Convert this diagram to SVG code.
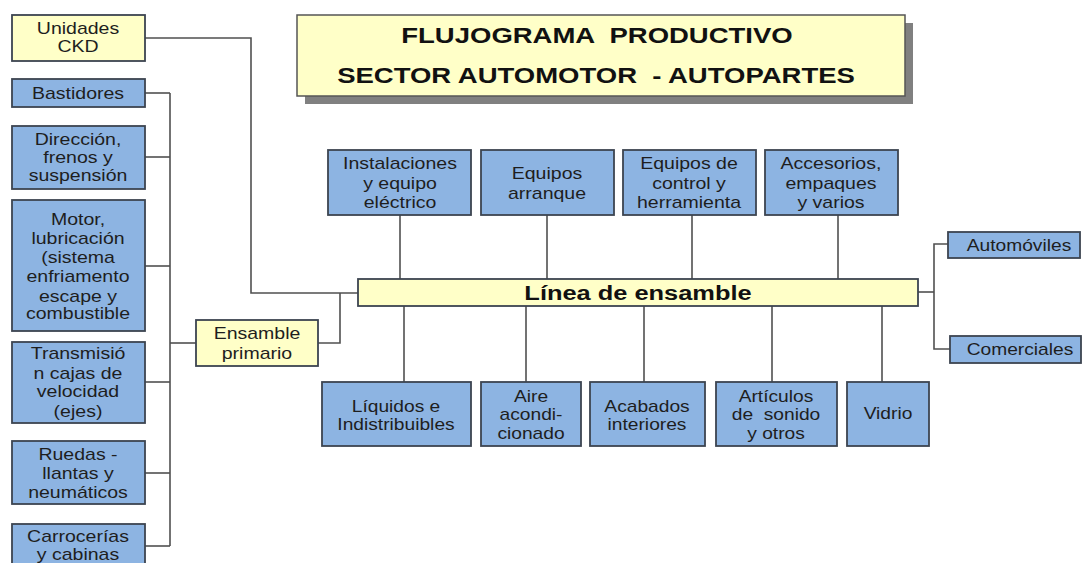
<svg xmlns="http://www.w3.org/2000/svg" width="1083" height="563" viewBox="0 0 1083 563">
<style>
.b{fill:#8DB4E2;stroke:#3c4450;stroke-width:1.8}
.y{fill:#FFFFC8;stroke:#3c4450;stroke-width:1.8}
.t{font-family:"Liberation Sans",Arial,sans-serif;font-size:16px;fill:#1e1e1e;text-anchor:middle}
.h{font-family:"Liberation Sans",Arial,sans-serif;font-weight:bold;fill:#111;text-anchor:middle}
.c{fill:none;stroke:#505050;stroke-width:1.6}
</style>
<rect width="1083" height="563" fill="#fff"/>
<g id="connectors" class="c">
<polyline points="145,38 251,38 251,293 358,293"/>
<line x1="170" y1="93" x2="170" y2="546"/>
<line x1="145" y1="93" x2="170" y2="93"/>
<line x1="145" y1="157" x2="170" y2="157"/>
<line x1="145" y1="266" x2="170" y2="266"/>
<line x1="145" y1="382" x2="170" y2="382"/>
<line x1="145" y1="473" x2="170" y2="473"/>
<line x1="145" y1="546" x2="170" y2="546"/>
<line x1="170" y1="343" x2="196" y2="343"/>
<polyline points="318,343 340,343 340,293"/>
<line x1="400" y1="215" x2="400" y2="279"/>
<line x1="547" y1="215" x2="547" y2="279"/>
<line x1="692" y1="215" x2="692" y2="279"/>
<line x1="838" y1="215" x2="838" y2="279"/>
<line x1="404" y1="306" x2="404" y2="382"/>
<line x1="526" y1="306" x2="526" y2="382"/>
<line x1="644" y1="306" x2="644" y2="382"/>
<line x1="772" y1="306" x2="772" y2="382"/>
<line x1="882" y1="306" x2="882" y2="382"/>
<line x1="918" y1="292" x2="934" y2="292"/>
<polyline points="948,244 934,244 934,349 950,349"/>
</g>
<g id="title">
<rect x="305" y="23" width="608" height="81" fill="#808080"/>
<rect x="297" y="15" width="608" height="81" fill="#FFFFC8" stroke="#555" stroke-width="1.5"/>
<text class="h" font-size="22" xml:space="preserve" transform="translate(597,43) scale(1.25,1)">FLUJOGRAMA  PRODUCTIVO</text>
<text class="h" font-size="22" xml:space="preserve" transform="translate(596,83) scale(1.25,1)">SECTOR AUTOMOTOR  - AUTOPARTES</text>
</g>
<g id="ckd"><rect class="y" x="12" y="15" width="133" height="46"/>
<text class="t" transform="translate(78,0) scale(1.22,1)"><tspan x="0" y="34">Unidades</tspan><tspan x="0" y="52">CKD</tspan></text></g>
<g id="bastidores"><rect class="b" x="12" y="79" width="133" height="28"/>
<text class="t" transform="translate(78,0) scale(1.22,1)"><tspan x="0" y="99">Bastidores</tspan></text></g>
<g id="direccion"><rect class="b" x="12" y="126" width="133" height="63"/>
<text class="t" transform="translate(78,0) scale(1.22,1)"><tspan x="0" y="145">Dirección,</tspan><tspan x="0" y="163">frenos y</tspan><tspan x="0" y="181">suspensión</tspan></text></g>
<g id="motor"><rect class="b" x="12" y="200" width="133" height="131"/>
<text class="t" transform="translate(78,0) scale(1.22,1)"><tspan x="0" y="225">Motor,</tspan><tspan x="0" y="244">lubricación</tspan><tspan x="0" y="263">(sistema</tspan><tspan x="0" y="282">enfriamento</tspan><tspan x="0" y="302">escape y</tspan><tspan x="0" y="319">combustible</tspan></text></g>
<g id="transmision"><rect class="b" x="12" y="342" width="133" height="81"/>
<text class="t" transform="translate(78,0) scale(1.22,1)"><tspan x="0" y="359">Transmisió</tspan><tspan x="0" y="379">n cajas de</tspan><tspan x="0" y="397">velocidad</tspan><tspan x="0" y="417">(ejes)</tspan></text></g>
<g id="ruedas"><rect class="b" x="12" y="441" width="133" height="63"/>
<text class="t" transform="translate(78,0) scale(1.22,1)"><tspan x="0" y="460">Ruedas -</tspan><tspan x="0" y="479">llantas y</tspan><tspan x="0" y="498">neumáticos</tspan></text></g>
<g id="carrocerias"><rect class="b" x="12" y="524" width="133" height="60"/>
<text class="t" transform="translate(78,0) scale(1.22,1)"><tspan x="0" y="542">Carrocerías</tspan><tspan x="0" y="560">y cabinas</tspan></text></g>
<g id="ensamble-primario"><rect class="y" x="196" y="320" width="122" height="46"/>
<text class="t" transform="translate(257,0) scale(1.22,1)"><tspan x="0" y="339">Ensamble</tspan><tspan x="0" y="359">primario</tspan></text></g>
<g id="instalaciones"><rect class="b" x="328" y="150" width="143" height="65"/>
<text class="t" transform="translate(400,0) scale(1.22,1)"><tspan x="0" y="169">Instalaciones</tspan><tspan x="0" y="189">y equipo</tspan><tspan x="0" y="208">eléctrico</tspan></text></g>
<g id="equipos-arranque"><rect class="b" x="481" y="150" width="133" height="65"/>
<text class="t" transform="translate(547,0) scale(1.22,1)"><tspan x="0" y="179">Equipos</tspan><tspan x="0" y="199">arranque</tspan></text></g>
<g id="equipos-control"><rect class="b" x="623" y="150" width="133" height="65"/>
<text class="t" transform="translate(689,0) scale(1.22,1)"><tspan x="0" y="169">Equipos de</tspan><tspan x="0" y="189">control y</tspan><tspan x="0" y="208">herramienta</tspan></text></g>
<g id="accesorios"><rect class="b" x="765" y="150" width="133" height="65"/>
<text class="t" transform="translate(831,0) scale(1.22,1)"><tspan x="0" y="169">Accesorios,</tspan><tspan x="0" y="189">empaques</tspan><tspan x="0" y="208">y varios</tspan></text></g>
<g id="linea-ensamble"><rect class="y" x="358" y="279" width="560" height="27"/>
<text class="h" font-size="20" transform="translate(638,300) scale(1.27,1)">Línea de ensamble</text></g>
<g id="liquidos"><rect class="b" x="322" y="382" width="149" height="64"/>
<text class="t" transform="translate(396,0) scale(1.2,1)"><tspan x="0" y="412">Líquidos e</tspan><tspan x="0" y="430">Indistribuibles</tspan></text></g>
<g id="aire"><rect class="b" x="481" y="382" width="100" height="64"/>
<text class="t" transform="translate(531,0) scale(1.2,1)"><tspan x="0" y="402">Aire</tspan><tspan x="0" y="420">acondi-</tspan><tspan x="0" y="439">cionado</tspan></text></g>
<g id="acabados"><rect class="b" x="590" y="382" width="115" height="64"/>
<text class="t" transform="translate(647,0) scale(1.2,1)"><tspan x="0" y="412">Acabados</tspan><tspan x="0" y="430">interiores</tspan></text></g>
<g id="articulos"><rect class="b" x="716" y="382" width="121" height="64"/>
<text class="t" xml:space="preserve" transform="translate(776,0) scale(1.2,1)"><tspan x="0" y="402">Artículos</tspan><tspan x="0" y="420">de  sonido</tspan><tspan x="0" y="439">y otros</tspan></text></g>
<g id="vidrio"><rect class="b" x="847" y="382" width="82" height="64"/>
<text class="t" transform="translate(888,0) scale(1.2,1)"><tspan x="0" y="419">Vidrio</tspan></text></g>
<g id="automoviles"><rect class="b" x="948" y="232" width="132" height="26"/>
<text class="t" transform="translate(1019,0) scale(1.2,1)"><tspan x="0" y="251">Automóviles</tspan></text></g>
<g id="comerciales"><rect class="b" x="950" y="336" width="131" height="27"/>
<text class="t" transform="translate(1020,0) scale(1.2,1)"><tspan x="0" y="355">Comerciales</tspan></text></g>
</svg>
